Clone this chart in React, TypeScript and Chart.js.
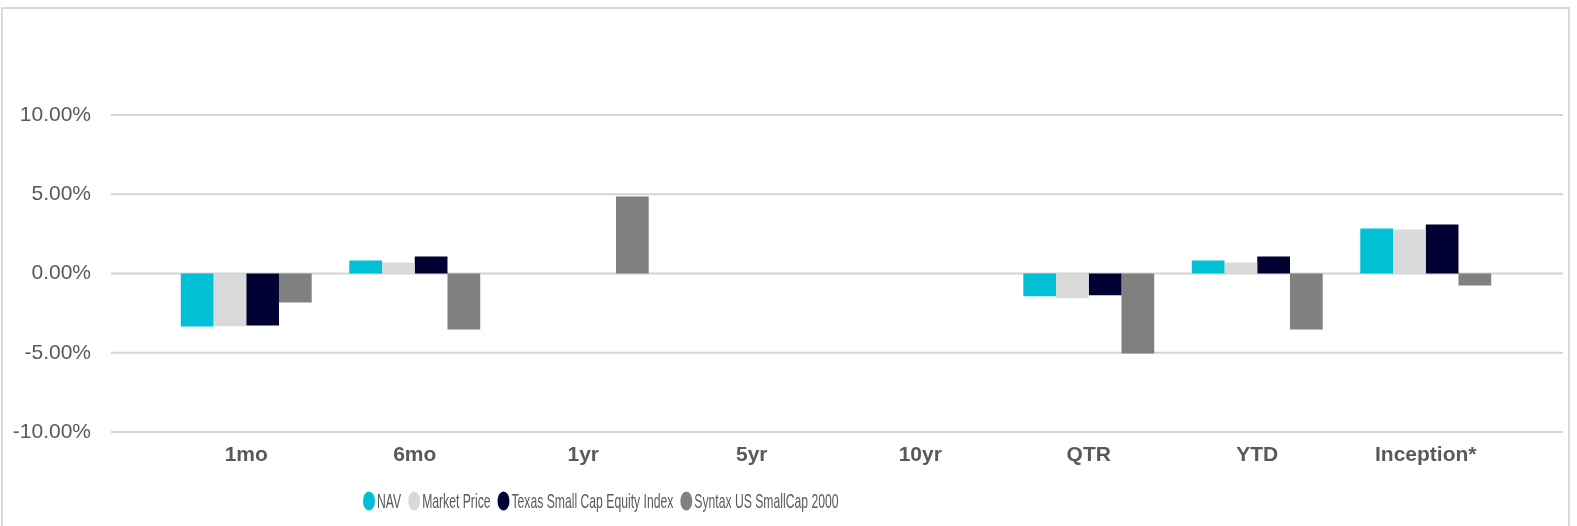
import React, { useEffect, useRef } from "react";
import { Chart, registerables } from "chart.js";

Chart.register(...registerables);

const categories = ["1mo", "6mo", "1yr", "5yr", "10yr", "QTR", "YTD", "Inception*"];
const seriesNames = ["NAV", "Market Price", "Texas Small Cap Equity Index", "Syntax US SmallCap 2000"];
const navValues = [-3.34, 0.82, null, null, null, -1.43, 0.82, 2.84];
const marketValues = [-3.33, 0.69, null, null, null, -1.56, 0.69, 2.77];
const texasValues = [-3.28, 1.07, null, null, null, -1.37, 1.07, 3.09];
const syntaxValues = [-1.83, -3.53, 4.86, null, null, -5.04, -3.53, -0.76];
const seriesColors = ["#00C0D6", "#D9D9D9", "#000033", "#808080"];
const yTicks = [-10, -5, 0, 5, 10];

const FONT = '"Liberation Sans", Arial, sans-serif';
const TEXT_COLOR = "#595959";

const gridPlugin = {
  id: "wideGrid",
  beforeDatasetsDraw(chart: any) {
    const { ctx, chartArea } = chart;
    const y = chart.scales.y;
    ctx.save();
    ctx.strokeStyle = "#D4D4D4";
    ctx.lineWidth = 2;
    for (const t of yTicks) {
      const py = y.getPixelForValue(t);
      ctx.beginPath();
      ctx.moveTo(chartArea.left - 51, py);
      ctx.lineTo(chartArea.right + 53, py);
      ctx.stroke();
    }
    ctx.restore();
  },
};

const legendPlugin = {
  id: "squeezedLegend",
  afterDraw(chart: any) {
    const { ctx } = chart;
    const sx = 0.58;
    const cy = 501;
    let x = 363;
    ctx.save();
    ctx.font = `21px ${FONT}`;
    ctx.textBaseline = "middle";
    ctx.textAlign = "left";
    chart.data.datasets.forEach((ds: any) => {
      ctx.fillStyle = ds.backgroundColor;
      ctx.beginPath();
      ctx.ellipse(x + 6, cy, 6, 9.5, 0, 0, Math.PI * 2);
      ctx.fill();
      const tx = x + 14;
      const w = ctx.measureText(ds.label).width * sx;
      ctx.save();
      ctx.translate(tx, cy + 1.5);
      ctx.scale(sx, 1);
      ctx.fillStyle = TEXT_COLOR;
      ctx.fillText(ds.label, 0, 0);
      ctx.restore();
      x = tx + w + 7;
    });
    ctx.restore();
  },
};

export default function App() {
  const canvasRef = useRef<HTMLCanvasElement | null>(null);

  useEffect(() => {
    if (!canvasRef.current) return;
    const valueSets = [navValues, marketValues, texasValues, syntaxValues];
    const chart = new Chart(canvasRef.current, {
      type: "bar",
      data: {
        labels: categories,
        datasets: valueSets.map((vals, i) => ({
          label: seriesNames[i],
          data: vals,
          backgroundColor: seriesColors[i],
          borderWidth: 0,
          categoryPercentage: 0.777,
          barPercentage: 1,
        })),
      },
      options: {
        responsive: false,
        animation: false,
        devicePixelRatio: 1,
        layout: { padding: { top: 115, right: 67, left: 0, bottom: 0 } },
        plugins: {
          legend: { display: false },
          tooltip: { enabled: false },
          title: { display: false },
        },
        scales: {
          x: {
            grid: { display: false, drawTicks: false },
            border: { display: false },
            ticks: {
              padding: 11,
              color: TEXT_COLOR,
              font: { family: FONT, size: 21, weight: "bold" },
              maxRotation: 0,
              autoSkip: false,
            },
            afterFit(scale: any) {
              scale.height = 94;
            },
          },
          y: {
            min: -10,
            max: 10,
            grid: { display: false, drawTicks: false },
            border: { display: false },
            ticks: {
              stepSize: 5,
              padding: 71,
              color: TEXT_COLOR,
              font: { family: FONT, size: 21 },
              callback: (v: any) => Number(v).toFixed(2) + "%",
            },
            afterFit(scale: any) {
              scale.width = 162;
            },
          },
        },
      },
      plugins: [gridPlugin, legendPlugin],
    });
    return () => chart.destroy();
  }, []);

  return (
    <div style={{ position: "absolute", left: 0, top: 0, width: 1577, height: 526, background: "#fff", overflow: "hidden" }}>
      <canvas ref={canvasRef} width={1577} height={526} style={{ display: "block" }} />
      <div
        style={{
          position: "absolute",
          left: 1,
          top: 7,
          width: 1569,
          height: 519,
          boxSizing: "border-box",
          borderTop: "2px solid #D9D9D9",
          borderLeft: "2px solid #D9D9D9",
          borderRight: "2px solid #D9D9D9",
          pointerEvents: "none",
        }}
      />
    </div>
  );
}
